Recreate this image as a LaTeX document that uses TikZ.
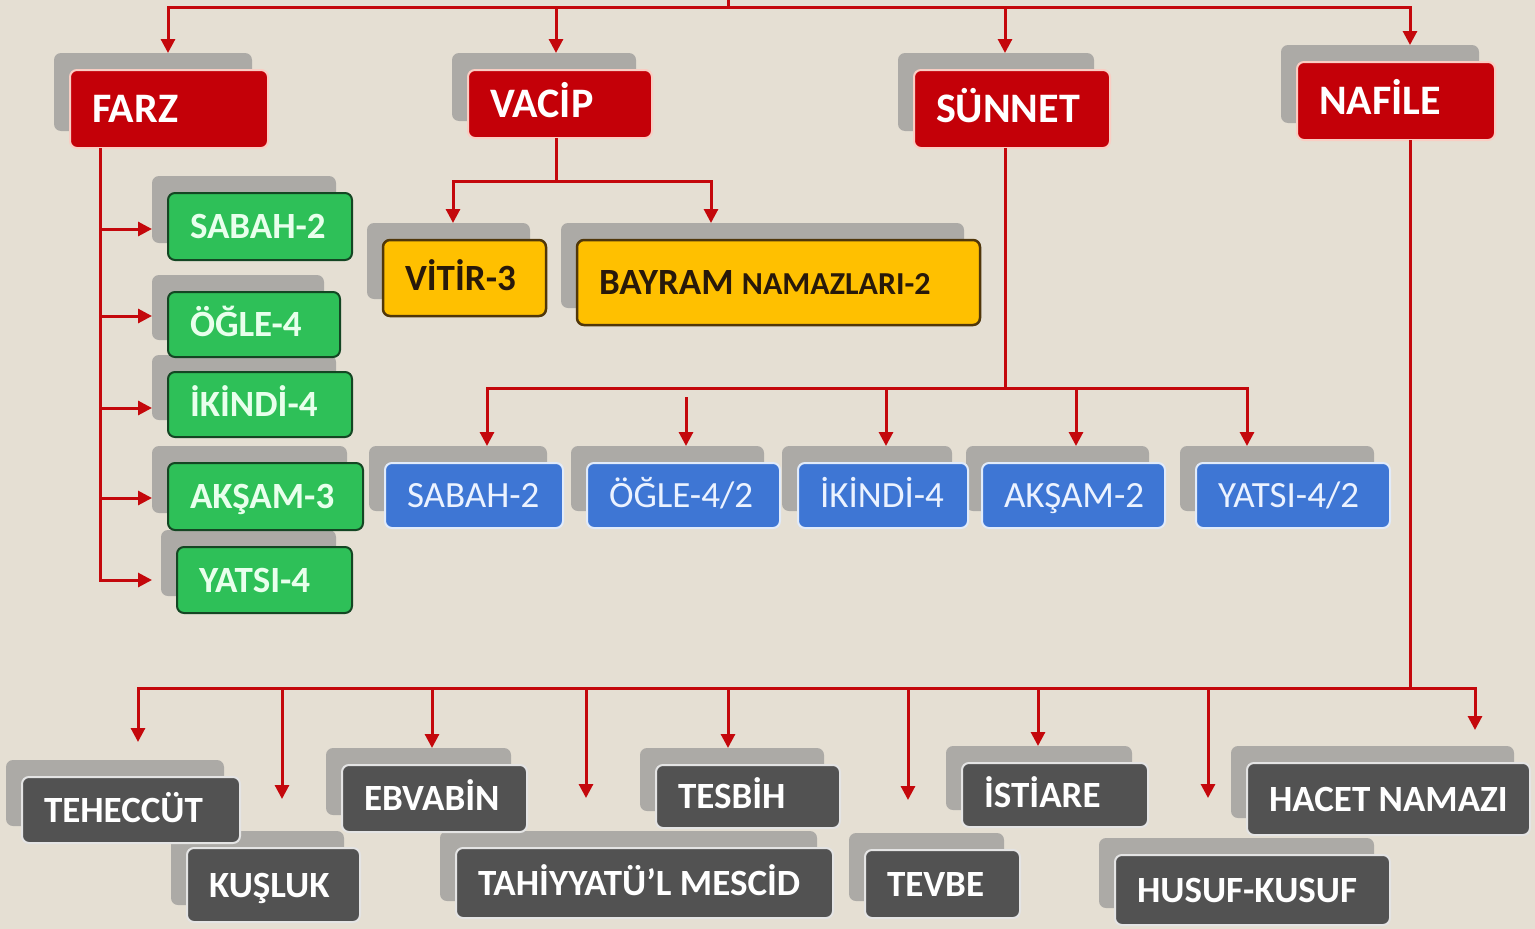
\documentclass[tikz,border=0pt]{standalone}
\usepackage{fontspec}
\setmainfont{Carlito}
\usetikzlibrary{arrows.meta,calc}
\definecolor{bg}{RGB}{229,223,211}
\definecolor{lred}{RGB}{196,8,12}
\definecolor{boxred}{RGB}{196,0,8}
\definecolor{rededge}{RGB}{250,205,195}
\definecolor{shd}{RGB}{172,170,166}
\definecolor{gfill}{RGB}{46,192,88}
\definecolor{gedge}{RGB}{20,70,35}
\definecolor{gtext}{RGB}{232,255,236}
\definecolor{yfill}{RGB}{255,192,0}
\definecolor{yedge}{RGB}{80,55,10}
\definecolor{ytext}{RGB}{40,25,10}
\definecolor{bfill}{RGB}{62,118,212}
\definecolor{bedge}{RGB}{225,235,250}
\definecolor{btext}{RGB}{235,242,255}
\definecolor{dfill}{RGB}{82,82,82}
\definecolor{dedge}{RGB}{228,228,228}
\pgfdeclarelayer{bgl}
\pgfdeclarelayer{shl}
\pgfsetlayers{bgl,shl,main}
% #1 name, #2 style, #3 x1, #4 y1, #5 x2, #6 y2, #7 text
\newcommand\bx[7]{%
  \begin{pgfonlayer}{shl}
  \node[shadowb, minimum width={#5-#3}, minimum height={#6-#4}] (#1-s) at ({(#3+#5)/2-16},{(#4+#6)/2-17}) {};
  \end{pgfonlayer}
  \node[#2, minimum width={#5-#3}, minimum height={#6-#4}] (#1) at ({(#3+#5)/2},{(#4+#6)/2}) {\makebox[\dimexpr #5pt-#3pt-44pt\relax][l]{#7}};
}
\begin{document}
\begin{tikzpicture}[x=1pt,y=-1pt,
  basebox/.style={rounded corners=7pt, inner xsep=22pt, inner ysep=0pt, outer sep=0pt, line width=2pt, text depth=0pt},
  redb/.style={basebox, fill=boxred, draw=rededge, text=white, font=\fontsize{42}{46}\selectfont\bfseries, text height=27pt},
  greenb/.style={basebox, fill=gfill, draw=gedge, text=gtext, font=\fontsize{37}{40}\selectfont\bfseries, text height=24pt},
  yelb/.style={basebox, fill=yfill, draw=yedge, line width=2.5pt, text=ytext, font=\fontsize{37}{40}\selectfont\bfseries, text height=24pt},
  blueb/.style={basebox, fill=bfill, draw=bedge, text=btext, font=\fontsize{37}{40}\selectfont, text height=24pt},
  grayb/.style={basebox, fill=dfill, draw=dedge, text=white, font=\fontsize{37}{40}\selectfont\bfseries, text height=24pt},
  shadowb/.style={fill=shd, rounded corners=7pt, inner sep=0pt, outer sep=0pt},
  conn/.style={draw=lred, line width=3pt},
  arrw/.style={conn, -{Triangle[length=14pt,width=14pt]}}
]
\begin{pgfonlayer}{bgl}
\fill[bg] (0,0) rectangle (1535,929);
\end{pgfonlayer}
\useasboundingbox (0,0) rectangle (1535,929);

% top level
\bx{farz}{redb}{70}{70}{268}{148}{FARZ}
\bx{vacip}{redb}{468}{70}{652}{138}{VACİP}
\bx{sunnet}{redb}{914}{70}{1110}{148}{SÜNNET}
\bx{nafile}{redb}{1297}{62}{1495}{140}{NAFİLE}

% farz children
\bx{fs1}{greenb}{168}{193}{352}{260}{SABAH-2}
\bx{fs2}{greenb}{168}{292}{340}{357}{ÖĞLE-4}
\bx{fs3}{greenb}{168}{372}{352}{437}{İKİNDİ-4}
\bx{fs4}{greenb}{168}{463}{363}{530}{AKŞAM-3}
\bx{fs5}{greenb}{177}{547}{352}{613}{YATSI-4}

% vacip children
\bx{vitir}{yelb}{383}{240}{546}{316}{VİTİR-3}
\bx{bayram}{yelb}{577}{240}{980}{325}{BAYRAM {\fontsize{32}{34}\selectfont NAMAZLARI-2}}

% sunnet children
\bx{ss1}{blueb}{385}{463}{563}{528}{SABAH-2}
\bx{ss2}{blueb}{587}{463}{780}{528}{ÖĞLE-4/2}
\bx{ss3}{blueb}{798}{463}{968}{528}{İKİNDİ-4}
\bx{ss4}{blueb}{982}{463}{1165}{528}{AKŞAM-2}
\bx{ss5}{blueb}{1196}{463}{1390}{528}{YATSI-4/2}

% nafile children
\bx{teh}{grayb}{22}{777}{240}{843}{TEHECCÜT}
\bx{kus}{grayb}{187}{848}{360}{922}{KUŞLUK}
\bx{ebv}{grayb}{342}{765}{527}{832}{EBVABİN}
\bx{tah}{grayb}{456}{848}{833}{918}{TAHİYYATÜ’L MESCİD}
\bx{tes}{grayb}{656}{765}{840}{828}{TESBİH}
\bx{tev}{grayb}{865}{850}{1020}{918}{TEVBE}
\bx{ist}{grayb}{962}{763}{1148}{827}{İSTİARE}
\bx{hus}{grayb}{1115}{855}{1390}{925}{HUSUF-KUSUF}
\bx{hac}{grayb}{1247}{763}{1530}{835}{HACET NAMAZI}

% ---- connectors ----
\coordinate (tin) at (728,-4);
\coordinate (tbm) at (728,7);
\coordinate (tb1) at (168,7);
\coordinate (tb2) at (556,7);
\coordinate (tb3) at (1005,7);
\coordinate (tb4) at (1410,7);
\draw[conn] (tin) -- (tbm);
\draw[arrw] (tbm) -| (tb1 |- farz-s.north);
\draw[arrw] (tbm) -| (tb4 |- nafile-s.north);
\draw[arrw] (tb2) -- (tb2 |- vacip-s.north);
\draw[arrw] (tb3) -- (tb3 |- sunnet-s.north);

% farz
\coordinate (fa1) at (100,229);
\coordinate (fa2) at (100,316);
\coordinate (fa3) at (100,408);
\coordinate (fa4) at (100,498);
\coordinate (fa5) at (100,580);
\draw[arrw] (fa1 |- farz.south) |- (fa5 -| fs1-s.west);
\draw[arrw] (fa1) -- (fa1 -| fs1-s.west);
\draw[arrw] (fa2) -- (fa2 -| fs1-s.west);
\draw[arrw] (fa3) -- (fa3 -| fs1-s.west);
\draw[arrw] (fa4) -- (fa4 -| fs1-s.west);

% vacip
\coordinate (va0) at (556,181);
\coordinate (va1) at (453,181);
\coordinate (va2) at (711,181);
\draw[conn] (va0 |- vacip.south) -- (va0);
\draw[arrw] (va0) -| (va1 |- vitir-s.north);
\draw[arrw] (va0) -| (va2 |- bayram-s.north);

% sunnet
\coordinate (su0) at (1005,388);
\coordinate (su1) at (487,388);
\coordinate (su2) at (686,388);
\coordinate (su3) at (886,388);
\coordinate (su4) at (1076,388);
\coordinate (su5) at (1247,388);
\draw[conn] (su0 |- sunnet.south) -- (su0);
\draw[arrw] (su0) -| (su1 |- ss1-s.north);
\draw[arrw] (su0) -| (su5 |- ss5-s.north);
\draw[arrw] ($(su2)+(0,9)$) -- (su2 |- ss2-s.north);
\draw[arrw] (su3) -- (su3 |- ss3-s.north);
\draw[arrw] (su4) -- (su4 |- ss4-s.north);

% nafile
\coordinate (na0) at (1410,688);
\coordinate (na1) at (138,688);
\coordinate (na2) at (282,688);
\coordinate (na3) at (432,688);
\coordinate (na4) at (586,688);
\coordinate (na5) at (728,688);
\coordinate (na6) at (908,688);
\coordinate (na7) at (1038,688);
\coordinate (na8) at (1208,688);
\coordinate (na9) at (1475,688);
\draw[conn] (na0 |- nafile.south) -- (na0);
\draw[arrw] (na0) -| ($(na1 |- teh-s.north)+(0,-18)$);
\draw[arrw] (na0) -| ($(na9 |- hac-s.north)+(0,-16)$);
\draw[arrw] (na2) -- ($(na2 |- kus-s.north)+(0,-32)$);
\draw[arrw] (na3) -- (na3 |- ebv-s.north);
\draw[arrw] (na4) -- ($(na4 |- tah-s.north)+(0,-33)$);
\draw[arrw] (na5) -- (na5 |- tes-s.north);
\draw[arrw] (na6) -- ($(na6 |- tev-s.north)+(0,-33)$);
\draw[arrw] (na7) -- (na7 |- ist-s.north);
\draw[arrw] (na8) -- ($(na8 |- hus-s.north)+(0,-40)$);
\end{tikzpicture}
\end{document}
